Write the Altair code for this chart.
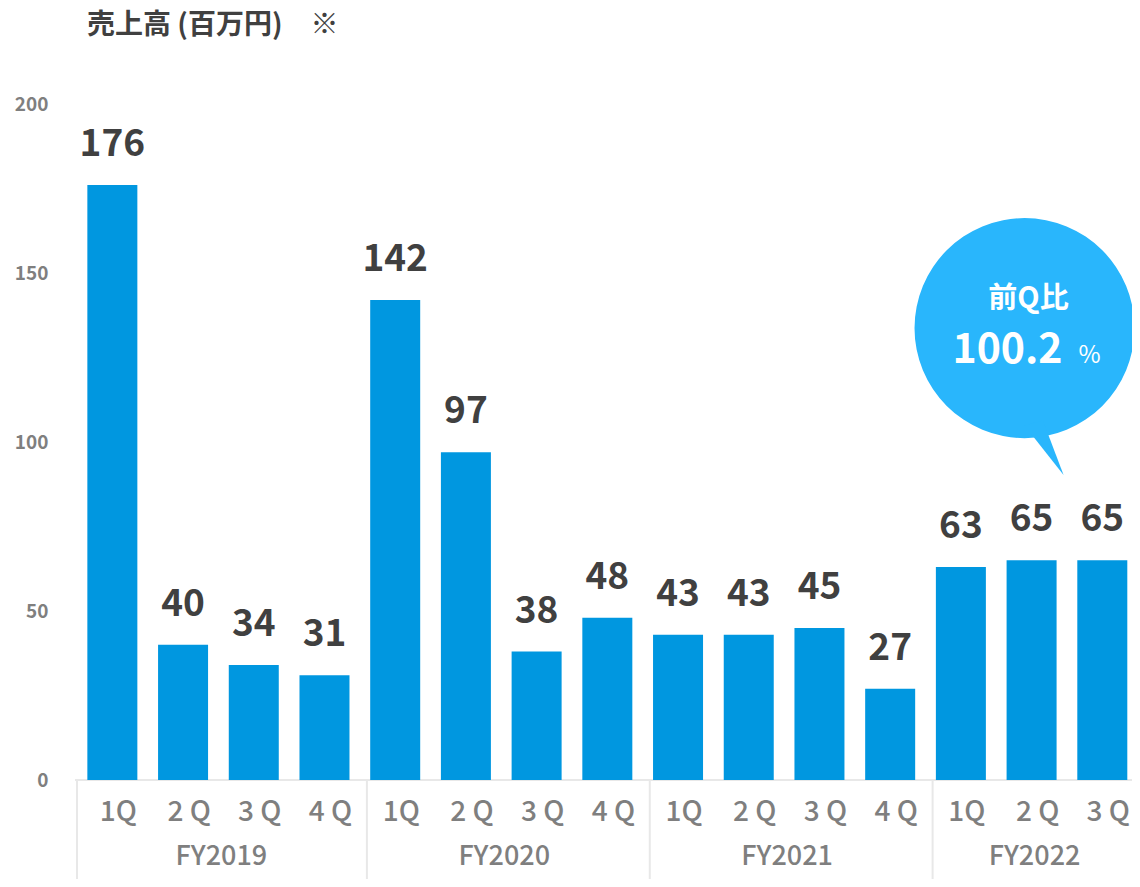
import altair as alt
import pandas as pd

# ---- data ----
fiscal_years = ["FY2019"] * 4 + ["FY2020"] * 4 + ["FY2021"] * 4 + ["FY2022"] * 3
quarters = ["1Q", "2 Q", "3 Q", "4 Q"] * 3 + ["1Q", "2 Q", "3 Q"]
sales = [176, 40, 34, 31, 142, 97, 38, 48, 43, 43, 45, 27, 63, 65, 65]
y_ticks = [0, 50, 100, 150, 200]

title_text = "売上高 (百万円)　※"
bubble_line1 = ["前Q比"]
bubble_value = ["100.2"]
bubble_unit = ["%"]
bubble_pos_x = [12.9]     # in category-index units
bubble_pos_y = [133.7]    # in sales units

# ---- style ----
W, H = 1055, 676
FONT = "Noto Sans CJK JP"
BAR = "#0097E0"
BUBBLE = "#29B6FC"
DARK = "#404040"
GRAY = "#7F7F7F"
LINE = "#E8E8E8"

df = pd.DataFrame({"idx": range(len(sales)), "fy": fiscal_years, "q": quarters, "sales": sales})
groups = df.groupby("fy", sort=False)["idx"].agg(["min", "mean"]).reset_index()
groups["sep"] = (groups["min"] - 0.4).where(groups["min"] > 0, -0.5)

bubble = pd.DataFrame({"bx": bubble_pos_x, "by": bubble_pos_y,
                       "l1": bubble_line1, "val": bubble_value, "unit": bubble_unit})

x_scale = alt.Scale(domain=[-0.5, 14.42], nice=False, zero=False, padding=0)
y_scale = alt.Scale(domain=[0, 200], nice=False, padding=0)
y_axis = alt.Axis(values=y_ticks, domain=False, ticks=False, grid=False, title=None,
                  labelFont=FONT, labelFontSize=19, labelColor=GRAY, labelFontWeight="bold",
                  labelPadding=29)


def X(f):
    return alt.X(f, scale=x_scale, axis=None)


def Y(f):
    return alt.Y(f, scale=y_scale, axis=y_axis)


base = alt.Chart(df)

baseline = alt.Chart(pd.DataFrame({"v": [0]})).mark_rule(color=LINE, strokeWidth=2).encode(
    y=Y("v:Q"), x=alt.value(-2), x2=alt.value(W + 10)
)

bars = base.mark_bar(width=50, color=BAR).encode(x=X("idx:Q"), y=Y("sales:Q"))

values = base.mark_text(font=FONT, fontSize=37, fontWeight="bold", color=DARK,
                        baseline="alphabetic", dy=-29).encode(
    x=X("idx:Q"), y=Y("sales:Q"), text="sales:Q"
)

seps = alt.Chart(groups).mark_rule(color=LINE, strokeWidth=2).encode(
    x=X("sep:Q"), y=alt.value(H + 1), y2=alt.value(H + 99)
)

qlabels = base.mark_text(font=FONT, fontSize=28, fontWeight=500, color=GRAY, baseline="middle", dx=6).encode(
    x=X("idx:Q"), y=alt.value(H + 33), text="q:N"
)

fylabels = alt.Chart(groups).mark_text(font=FONT, fontSize=27, fontWeight=500, color=GRAY,
                                       baseline="middle", dx=3).encode(
    x=X("mean:Q"), y=alt.value(H + 77), text="fy:N"
)

title = alt.Chart(pd.DataFrame({"t": [title_text]})).mark_text(
    font=FONT, fontSize=28, fontWeight="bold", color=DARK, align="left", baseline="alphabetic"
).encode(x=alt.value(10), y=alt.value(-70), text="t:N")

bchart = alt.Chart(bubble)
circle = bchart.mark_point(shape="circle", size=48400, filled=True, color=BUBBLE,
                           opacity=1, strokeWidth=0).encode(x=X("bx:Q"), y=Y("by:Q"))
tail = bchart.mark_point(shape="M 0 0.886 L 0.355 1.336 L 0.167 0.841 Z", size=48400, filled=True,
                         color=BUBBLE, opacity=1, strokeWidth=0).encode(x=X("bx:Q"), y=Y("by:Q"))
t1 = bchart.mark_text(font=FONT, fontSize=29, fontWeight="bold", color="white",
                      baseline="alphabetic", dx=4, dy=-20).encode(x=X("bx:Q"), y=Y("by:Q"), text="l1:N")
t2 = bchart.mark_text(font=FONT, fontSize=41, fontWeight="bold", color="white",
                      baseline="alphabetic", dx=-17, dy=35).encode(x=X("bx:Q"), y=Y("by:Q"), text="val:N")
t3 = bchart.mark_text(font=FONT, fontSize=24, color="white",
                      baseline="alphabetic", dx=65, dy=35).encode(x=X("bx:Q"), y=Y("by:Q"), text="unit:N")

chart = alt.layer(baseline, bars, values, seps, qlabels, fylabels, title, circle, tail, t1, t2, t3).properties(
    width=W, height=H,
    padding={"left": 69, "top": 96, "right": 0, "bottom": 99},
    autosize=alt.AutoSizeParams(type="none"),
    background="white",
).configure_view(stroke=None)

chart.save("out.html", embed_options={"renderer": "svg", "actions": False})
